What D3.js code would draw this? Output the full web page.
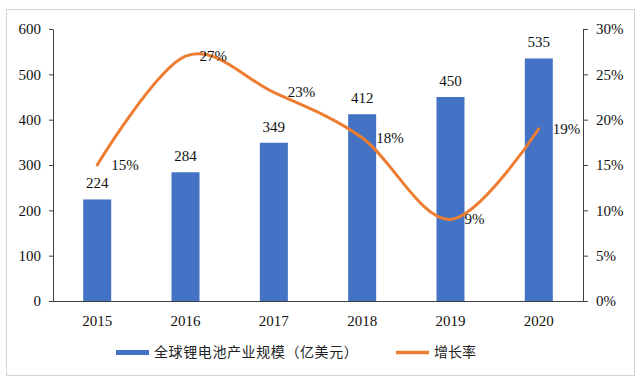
<!DOCTYPE html>
<html><head><meta charset="utf-8">
<script src="https://cdn.jsdelivr.net/npm/d3@7"></script>
<style>body{margin:0;background:#fff}svg{display:block}</style>
</head><body><svg id="c" width="640" height="382"></svg>
<script>
const years = ["2015","2016","2017","2018","2019","2020"];
const marketSize = [224, 284, 349, 412, 450, 535];
const growthRate = [15, 27, 23, 18, 9, 19];
const leftTicks = [0,100,200,300,400,500,600];
const rightTicks = [0,5,10,15,20,25,30];
const barName = "全球锂电池产业规模（亿美元）";
const lineName = "增长率";

const svg = d3.select("#c");
const serif = "'Liberation Serif','Times New Roman',serif";
const cjk = "'Noto Sans CJK SC',sans-serif";
const L = 53, R = 583, T = 29, B = 301;

svg.append("rect").attr("x",6.5).attr("y",9.5).attr("width",628).attr("height",366)
  .attr("fill","#fff").attr("stroke","#d4d4d4");

const x = d3.scaleBand().domain(years).range([L,R]).paddingInner(0.683).paddingOuter(0.342);
const y = d3.scaleLinear().domain([0,600]).range([B,T]);
const y2 = d3.scaleLinear().domain([0,30]).range([B,T]);

// axes
const gl = svg.append("g").attr("transform",`translate(${L},0)`)
  .call(d3.axisLeft(y).tickValues(leftTicks).tickSize(4).tickSizeOuter(0).tickPadding(8));
const gr = svg.append("g").attr("transform",`translate(${R},0)`)
  .call(d3.axisRight(y2).tickValues(rightTicks).tickSize(5).tickSizeOuter(0).tickPadding(8).tickFormat(d=>d+"%"));
const gb = svg.append("g").attr("transform",`translate(0,${B})`)
  .call(d3.axisBottom(x).tickSize(0).tickPadding(14));
[gl,gr,gb].forEach(g=>{
  g.selectAll("path,line").attr("stroke","#404040").attr("stroke-width",1);
  g.selectAll("text").attr("font-family",serif).attr("font-size",15).attr("fill","#111");
});
gb.select(".domain").attr("d",`M${L},0.5H${R}`);

// bars
svg.append("g").selectAll("rect").data(years).join("rect")
  .attr("x",d=>x(d)).attr("width",x.bandwidth())
  .attr("y",(d,i)=>y(marketSize[i])).attr("height",(d,i)=>B-y(marketSize[i]))
  .attr("fill","#4472C4");
svg.append("g").selectAll("text").data(years).join("text")
  .attr("x",d=>x(d)+x.bandwidth()/2).attr("y",(d,i)=>y(marketSize[i])-11)
  .attr("text-anchor","middle").attr("font-family",serif).attr("font-size",15).attr("fill","#111")
  .text((d,i)=>marketSize[i]);

// line
const pts = years.map((d,i)=>[x(d)+x.bandwidth()/2, y2(growthRate[i])]);
svg.append("path").attr("d",d3.line().curve(d3.curveCardinal.tension(0))(pts))
  .attr("fill","none").attr("stroke","#ED7D31").attr("stroke-width",3).attr("stroke-linecap","round");
svg.append("g").selectAll("text").data(pts).join("text")
  .attr("x",d=>d[0]+14).attr("y",d=>d[1]+5)
  .attr("font-family",serif).attr("font-size",15).attr("fill","#111")
  .text((d,i)=>growthRate[i]+"%");

// legend
const lg = svg.append("g");
lg.append("rect").attr("x",116).attr("y",350).attr("width",33).attr("height",5).attr("fill","#4472C4");
lg.append("text").attr("x",154).attr("y",357).attr("font-family",cjk).attr("font-size",14)
  .attr("letter-spacing",0.6).attr("fill","#222").text(barName);
lg.append("line").attr("x1",396).attr("x2",429).attr("y1",352.5).attr("y2",352.5)
  .attr("stroke","#ED7D31").attr("stroke-width",3.5);
lg.append("text").attr("x",434).attr("y",357).attr("font-family",cjk).attr("font-size",14)
  .attr("fill","#222").text(lineName);
</script></body></html>
